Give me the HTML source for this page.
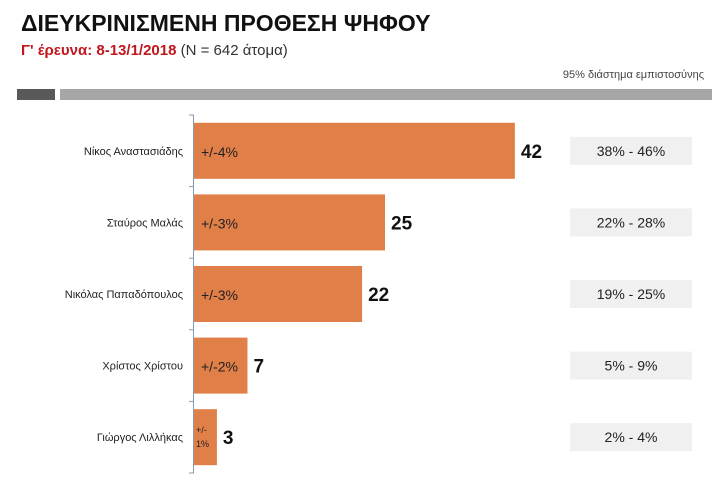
<!DOCTYPE html>
<html><head><meta charset="utf-8"><style>
body{margin:0;width:728px;height:495px;background:#fff;font-family:"Liberation Sans","DejaVu Sans",sans-serif;position:relative;overflow:hidden}
.t{position:absolute;white-space:nowrap}
</style></head><body>
<div class="t" style="left:21px;top:10px;font-size:23px;font-weight:bold;color:#111">ΔΙΕΥΚΡΙΝΙΣΜΕΝΗ ΠΡΟΘΕΣΗ ΨΗΦΟΥ</div>
<div class="t" style="left:21px;top:42px;font-size:15px;color:#333"><span style="color:#c0171e;font-weight:bold">Γ' έρευνα: 8-13/1/2018</span> (Ν = 642 άτομα)</div>
<div class="t" style="right:24px;top:69px;font-size:11px;color:#444">95% διάστημα εμπιστοσύνης</div>
<div style="position:absolute;left:17px;top:89px;width:38px;height:11px;background:#595959"></div>
<div style="position:absolute;left:60px;top:89px;width:652px;height:11px;background:#a6a6a6"></div>
<svg id="c" width="728" height="495" style="position:absolute;left:0;top:0"></svg>
<script>
const categories=["Νίκος Αναστασιάδης","Σταύρος Μαλάς","Νικόλας Παπαδόπουλος","Χρίστος Χρίστου","Γιώργος Λιλλήκας"];
const values=[42,25,22,7,3];
const margins=["+/-4%","+/-3%","+/-3%","+/-2%","+/-1%"];
const ciLabels=["38% - 46%","22% - 28%","19% - 25%","5% - 9%","2% - 4%"];
const NS="http://www.w3.org/2000/svg";
const svg=document.getElementById('c');
const x0=194,ppu=7.64,top0=115,band=71.6;
const xs=v=>x0+v*ppu;
const yc=i=>top0+band*(i+0.5);
function mk(t,a,txt){const e=document.createElementNS(NS,t);for(const k in a)e.setAttribute(k,a[k]);if(txt!=null)e.textContent=txt;svg.appendChild(e);return e;}
const ax=mk('line',{x1:193.5,x2:193.5,y1:top0,y2:top0+band*5,stroke:'#8a9bb0','stroke-width':1});

for(let i=0;i<=5;i++){const tk=mk('line',{x1:189,x2:194,y1:top0+band*i,y2:top0+band*i,stroke:'#8a9bb0'});
}
categories.forEach((c,i)=>{
 const y=yc(i);
 const lab=mk('text',{x:183,y:y+4,'text-anchor':'end','font-size':11,fill:'#222'},c);
 
 const b=mk('rect',{x:x0,y:y-28,width:xs(values[i])-x0,height:56,fill:'#e07f47'});
 
 if(values[i]>=5){
  const m=mk('text',{x:x0+7,y:y+6,'font-size':14,fill:'#222'},margins[i]);
  
 }else{
  const p=margins[i].split('-');
  const m=mk('text',{x:x0+2,y:y-4,'font-size':9,fill:'#222'},p[0]+'-');
  
  const m2=mk('text',{x:x0+2,y:y+10,'font-size':9,fill:'#222'},p[1]);
  
 }
 const v=mk('text',{x:xs(values[i])+6,y:y+7,'font-size':19,'font-weight':'bold',fill:'#111'},values[i]);
 
 const r=mk('rect',{x:570,y:y-14,width:122,height:28,fill:'#f0f0f0'});
 
 const t=mk('text',{x:631,y:y+5,'text-anchor':'middle','font-size':14,fill:'#222'},ciLabels[i]);
 
});
</script>
</body></html>
